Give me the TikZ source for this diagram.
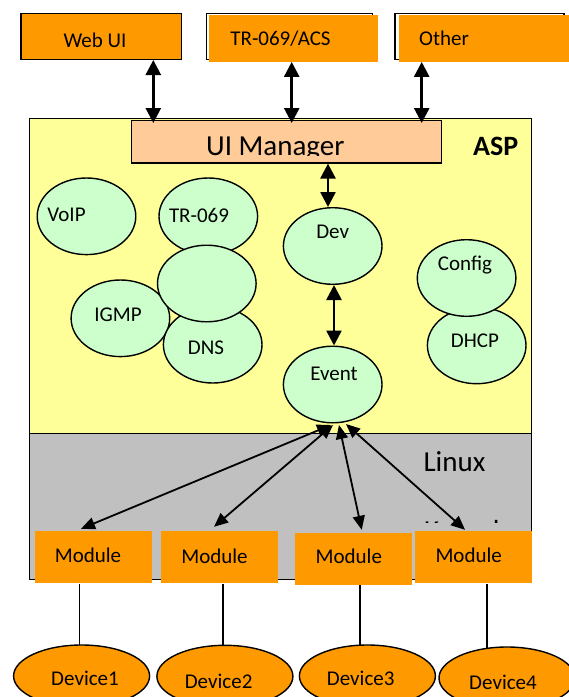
\documentclass[tikz,border=0pt]{standalone}
\usepackage{fontspec}
\setmainfont{Carlito}
\usetikzlibrary{arrows.meta,shapes.geometric}
\definecolor{boxorange}{HTML}{FF9900}
\definecolor{peach}{HTML}{FFCC99}
\definecolor{aspyellow}{HTML}{FFFF99}
\definecolor{mint}{HTML}{CCFFCC}
\definecolor{linuxgray}{HTML}{C0C0C0}

\begin{document}
\begin{tikzpicture}[x=1pt,y=-1pt,
  txt/.style={font=\fontsize{21}{25}\selectfont, inner sep=0pt},
  big/.style={font=\fontsize{29}{34}\selectfont, inner sep=0pt},
  boxline/.style={draw=black, line width=1.4pt},
  plate/.style={rectangle, inner sep=0pt},
  blob/.style={ellipse, boxline, fill=mint, minimum width=98.6pt, minimum height=76.6pt, inner sep=0pt},
  device/.style={ellipse, boxline, fill=boxorange, minimum width=136pt, minimum height=62pt, inner sep=0pt},
  module/.style={plate, fill=boxorange, minimum height=52.3pt},
  link/.style={line width=2.6pt, {Triangle[length=15pt,width=15pt]}-{Triangle[length=15pt,width=15pt]}},
  spoke/.style={line width=1.8pt, {Triangle[length=14pt,width=12pt]}-{Triangle[length=14pt,width=12pt]}},
  wire/.style={line width=1.1pt}
]
\useasboundingbox (0,0) rectangle (569,697);

% ---- clients on top ----
\node[plate, boxline, fill=boxorange, minimum width=160.7pt, minimum height=46pt] (webui) at (101.35,36.3) {};
\node[txt] (webuitext) at (95,40) {Web UI};

\node[plate, boxline, minimum width=165.6pt, minimum height=46pt] (trframe) at (289.5,36.3) {};
\node[plate, fill=boxorange, minimum width=168.7pt, minimum height=46.7pt] (tr) at (293.35,38.35) {};
\node[txt] (trtext) at (280.5,38.3) {TR-069/ACS};

\node[plate, boxline, minimum width=169pt, minimum height=46pt] (otherframe) at (479.5,36.3) {};
\node[plate, fill=boxorange, minimum width=169.7pt, minimum height=46.7pt] (other) at (483.85,38.35) {};
\node[txt] (othertext) at (444,38) {Other};

% ---- ASP and Linux layers ----
\node[plate, boxline, fill=aspyellow, minimum width=502.4pt, minimum height=315pt] (asp) at (280.5,275.8) {};
\node[plate, boxline, fill=linuxgray, minimum width=502.4pt, minimum height=146.2pt] (linux) at (280.5,506.4) {};

\node[plate, boxline, fill=peach, minimum width=310pt, minimum height=42.2pt] (uim) at (286.7,141.8) {};
\begin{scope}
  \clip (131.7,120.7) rectangle (441.7,155);
  \node[big, anchor=base] (uimtext) at (275.3,155.4) {UI Manager};
\end{scope}
\node[font=\bfseries\fontsize{28}{33}\selectfont, inner sep=0pt, anchor=base] (asptext) at (495.7,155) {ASP};

\node[big, anchor=base] (linuxtext) at (454.5,471.7) {Linux};
\begin{scope}
  \clip (415,514) rectangle (531,522);
  \node[big, anchor=base west] (kerneltext) at (424,540) {Kernel};
\end{scope}

% ---- ASP services ----
\node[blob, label={[txt, name=voiplabel, xshift=-20, yshift=1.3]center:VoIP}] (voip) at (86.5,216.3) {};
\node[blob, label={[txt, name=trlabel, xshift=-9.3, yshift=1.3]center:TR-069}] (tr069) at (208.3,216.3) {};
\node[blob, label={[txt, name=igmplabel, xshift=-2.4, yshift=3.3]center:IGMP}] (igmp) at (120.4,318.3) {};
\node[blob, label={[txt, name=dnslabel, xshift=-6.7, yshift=-3.3]center:DNS}] (dns) at (212.7,344.7) {};
\node[blob] (blank) at (206.8,283.5) {};
\node[blob, label={[txt, name=devlabel, yshift=14.4]center:Dev}] (dev) at (332.7,246) {};
\node[blob, label={[txt, name=eventlabel, xshift=1.3, yshift=10.5]center:Event}] (event) at (332.7,384.5) {};
\node[blob, label={[txt, name=dhcplabel, xshift=-1.7, yshift=4.4]center:DHCP}] (dhcp) at (476.7,345.4) {};
\node[blob, label={[txt, name=configlabel, xshift=-1.6, yshift=12.6]center:Config}] (config) at (466.6,278) {};

% ---- arrows into the UI manager and down to Event ----
\coordinate (uimin) at ([yshift=-3pt]uim.north);
\draw[link] (webui.south -| 153.3,0) -- (153.3,0 |- uimin);
\draw[link] (tr.south -| 291.7,0) -- (291.7,0 |- uimin);
\draw[link] (other.south -| 421.7,0) -- (421.7,0 |- uimin);
\draw[link] (uim.south -| 328,0) -- (328,0 |- dev.north);
\draw[link] (334,0 |- dev.south) -- (334,0 |- event.north);

% ---- modules ----
\node[module, minimum width=117pt, label={[txt, name=m1label, xshift=-5.5, yshift=1.45]center:Module}] (m1) at (93.5,557.15) {};
\node[module, minimum width=116.4pt, label={[txt, name=m2label, xshift=-5, yshift=1.15]center:Module}] (m2) at (219.5,557.15) {};
\node[module, minimum width=116.7pt, minimum height=51.7pt, label={[txt, name=m3label, xshift=-4.55, yshift=2.45]center:Module}] (m3) at (353.35,559.15) {};
\node[module, minimum width=116.7pt, label={[txt, name=m4label, xshift=-4.65, yshift=2.15]center:Module}] (m4) at (473.35,557.15) {};

\draw[spoke] ([xshift=-1.7pt, yshift=-1.5pt]event.south) -- ([xshift=-12.5pt, yshift=2pt]m1.north);
\draw[spoke] ([xshift=0.3pt, yshift=-1.5pt]event.south) -- ([xshift=-5.5pt, yshift=4pt]m2.north);
\draw[spoke] ([xshift=6.3pt, yshift=-1.5pt]event.south) -- ([xshift=8.4pt, yshift=3.3pt]m3.north);
\draw[spoke] ([xshift=13.3pt, yshift=-0.5pt]event.south) -- ([xshift=-8.3pt, yshift=1pt]m4.north);

% ---- devices ----
\coordinate (d1pos) at (81.6,676);
\coordinate (d2pos) at (224.9,676.3);
\coordinate (d3pos) at (367.4,676);
\coordinate (d4pos) at (507,678);
\draw[wire] (m1.south -| 79.8,0) -- (79.8,0 |- d1pos);
\draw[wire] (m2.south -| 223,0) -- (223,0 |- d2pos);
\draw[wire] (m3.south -| 360,0) -- (360,0 |- d3pos);
\draw[wire] (m4.south -| 487,0) -- (487,0 |- d4pos);

\node[device, label={[txt, name=d1label, xshift=3.4, yshift=-2]center:Device1}] (d1) at (d1pos) {};
\node[device, label={[txt, name=d2label, xshift=-6.3, yshift=-5.3]center:Device2}] (d2) at (d2pos) {};
\node[device, label={[txt, name=d3label, xshift=-6.7, yshift=-2]center:Device3}] (d3) at (d3pos) {};
\node[device, label={[txt, name=d4label, xshift=-4, yshift=-4]center:Device4}] (d4) at (d4pos) {};
\end{tikzpicture}
\end{document}
